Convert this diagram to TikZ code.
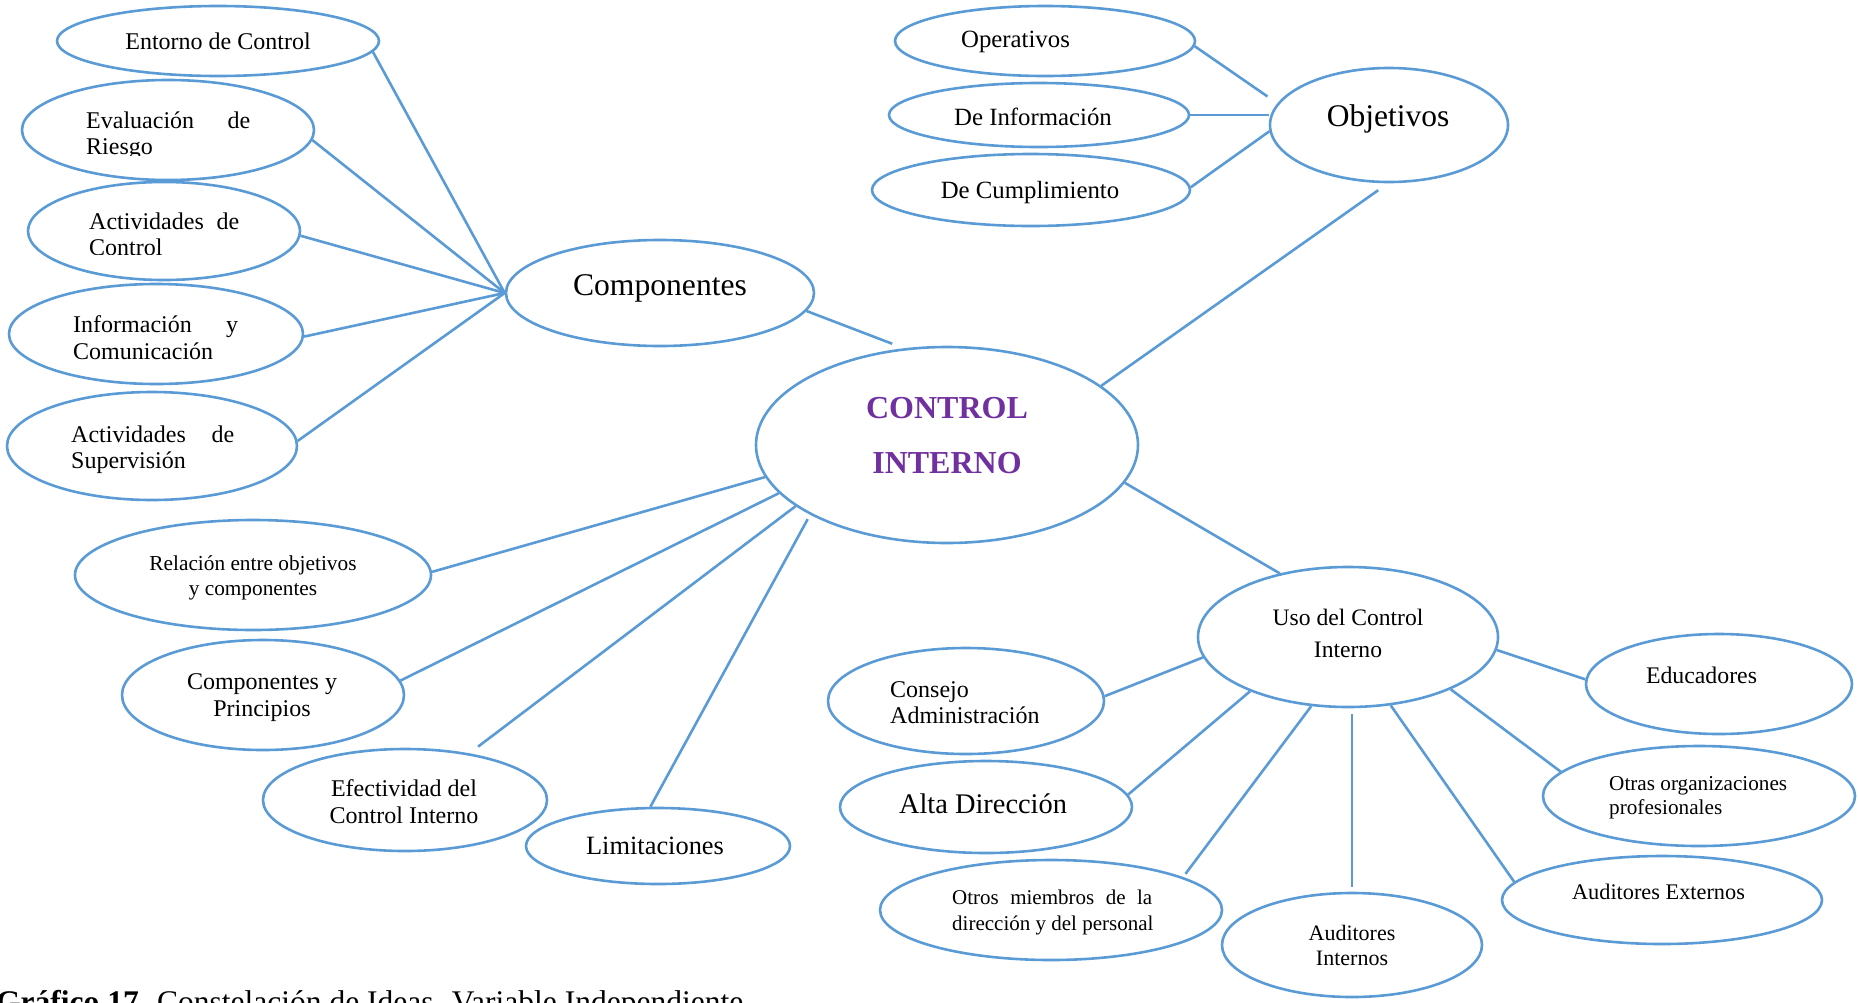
\documentclass[tikz,border=0pt]{standalone}
\usepackage{fontspec}
\setmainfont{Liberation Serif}
\usetikzlibrary{shapes.geometric}
\definecolor{lineblue}{RGB}{91,155,213}
\definecolor{cipurple}{RGB}{112,48,160}

% font size / line spacing in one go
\newcommand\fs[2]{\fontsize{#1}{#2}\selectfont}
% stacked lines, baseline on the first row
\newcommand\rows[2]{\begin{tabular}[t]{@{}#1@{}}#2\end{tabular}}

\begin{document}
\begin{tikzpicture}[x=1pt,y=-1pt,
  bubble/.style={ellipse, draw=lineblue, line width=2.6pt, inner sep=0pt},
  conn/.style={draw=lineblue, line width=2.6pt},
  lbl/.style={anchor=base, inner sep=0pt},
  lbll/.style={anchor=base west, inner sep=0pt},
]
\useasboundingbox (0,0) rectangle (1858,1002);

% ---------- ellipses ----------
% componentes branch
\node[bubble, minimum width=322pt, minimum height=70pt]  (ent)  at (218,41)  {};
\node[bubble, minimum width=292pt, minimum height=100pt] (eva)  at (168,130) {};
\node[bubble, minimum width=272pt, minimum height=98pt]  (act)  at (164,231) {};
\node[bubble, minimum width=294pt, minimum height=100pt] (inf)  at (156,334) {};
\node[bubble, minimum width=290pt, minimum height=108pt] (sup)  at (152,446) {};
\node[bubble, minimum width=308pt, minimum height=106pt] (comp) at (660,293) {};
% centre
\node[bubble, minimum width=382pt, minimum height=196pt] (ci)   at (947,445) {};
% objetivos branch
\node[bubble, minimum width=300pt, minimum height=70pt]  (ope)  at (1045,41)  {};
\node[bubble, minimum width=300pt, minimum height=64pt]  (dinf) at (1039,115) {};
\node[bubble, minimum width=318pt, minimum height=72pt]  (dcum) at (1031,190) {};
\node[bubble, minimum width=238pt, minimum height=114pt] (obj)  at (1389,125) {};
% lower left
\node[bubble, minimum width=356pt, minimum height=110pt] (rel)  at (253,575) {};
\node[bubble, minimum width=282pt, minimum height=110pt] (cyp)  at (263,695) {};
\node[bubble, minimum width=284pt, minimum height=102pt] (efe)  at (405,800) {};
\node[bubble, minimum width=264pt, minimum height=76pt]  (lim)  at (658,846) {};
% uso del control interno branch
\node[bubble, minimum width=300pt, minimum height=140pt] (uso)  at (1348,637) {};
\node[bubble, minimum width=276pt, minimum height=106pt] (cons) at (966,701)  {};
\node[bubble, minimum width=292pt, minimum height=92pt]  (alta) at (986,807)  {};
\node[bubble, minimum width=342pt, minimum height=100pt] (otros) at (1051,910) {};
\node[bubble, minimum width=260pt, minimum height=104pt] (audi) at (1352,945) {};
\node[bubble, minimum width=320pt, minimum height=88pt]  (aude) at (1662,900) {};
\node[bubble, minimum width=312pt, minimum height=100pt] (otras) at (1699,796) {};
\node[bubble, minimum width=266pt, minimum height=100pt] (edu)  at (1719,684) {};

% ---------- connectors ----------
\draw[conn] (ent.-4)    -- (comp.180);
\draw[conn] (eva.-4)    -- (comp.180);
\draw[conn] (act.-2.5)  -- (comp.180);
\draw[conn] (inf.-1.2)  -- (comp.180);
\draw[conn] (sup.2.4)   -- (comp.180);
\draw[conn, shorten >=12.5pt] (comp.-7.1) -- (ci.114.5);

\draw[conn, shorten >=12pt] (ci.21.9) -- (obj.269);
\draw[conn, shorten >=12pt] (ope.-2.3) -- (obj.169.6);
\draw[conn] (dinf.east) -- (dinf.east -| obj.west);
\draw[conn] (dcum.1.8)  -- (obj.183.4);

\draw[conn] (rel.1.6)   -- (ci.190.2);
\draw[conn] (cyp.6.4)   -- (ci.196.4);
\draw[conn, shorten <=11pt] (efe.36.4) -- (ci.202.9);
\draw[conn, shorten >=5pt] (lim.101) -- (ci.207);

\draw[conn] (ci.-12)    -- (uso.137.6);
\draw[conn] (cons.2.5)  -- (uso.188.2);
\draw[conn] (alta.5.8)  -- (uso.209.5);
\draw[conn, shorten <=4pt] (otros.14.7) -- (uso.242.5);
\draw[conn, shorten <=5pt, shorten >=6pt] (audi.north) -- (audi.north |- uso.south);
\draw[conn] (aude.173.7) -- (uso.302.4);
\draw[conn] (otras.170.7) -- (uso.333.2);
\draw[conn] (edu.178.7) -- (uso.355);

% ---------- texts ----------
\node[lbl] (t-ent) at (218,49) {\fs{24}{27}Entorno de Control};
\begin{scope}
  \clip (0,0) rectangle (1858,155);
  \node[lbll] (t-eva) at (86,128) {\fs{24}{26.5}\rows{l}{\makebox[164pt][s]{Evaluación de}\\Riesgo}};
\end{scope}
\begin{scope}
  \clip (0,180) rectangle (1858,254);
  \node[lbll] (t-act) at (89,229) {\fs{24}{26.5}\rows{l}{\makebox[150pt][s]{Actividades de}\\Control}};
\end{scope}
\node[lbll] (t-inf) at (73,332) {\fs{24}{27}\rows{l}{\makebox[165pt][s]{Información y}\\Comunicación}};
\node[lbll] (t-sup) at (71,442) {\fs{24}{26}\rows{l}{\makebox[163pt][s]{Actividades de}\\Supervisión}};
\node[lbl] (t-comp) at (660,295) {\fs{31.6}{34}Componentes};

\node[lbl, text=cipurple] (t-ci) at (947,418) {\fs{32}{55}\bfseries\rows{c}{CONTROL\\INTERNO}};

\node[lbl] (t-ope)  at (1015.5,47) {\fs{24.8}{27}Operativos};
\node[lbl] (t-dinf) at (1033,125)  {\fs{24.8}{27}De Información};
\node[lbl] (t-dcum) at (1030,198)  {\fs{24.8}{27}De Cumplimiento};
\node[lbl] (t-obj)  at (1388,126)  {\fs{31.5}{34}Objetivos};

\node[lbl] (t-rel) at (253,570) {\fs{21.3}{25}\rows{c}{Relación entre objetivos\\y componentes}};
\node[lbl] (t-cyp) at (262,689) {\fs{24}{27.5}\rows{c}{Componentes y\\Principios}};
\node[lbl] (t-efe) at (404,796) {\fs{24}{27}\rows{c}{Efectividad del\\Control Interno}};
\node[lbl] (t-lim) at (655,854) {\fs{26.4}{29}Limitaciones};

\node[lbl]  (t-uso)   at (1348,625) {\fs{23.6}{32}\rows{c}{Uso del Control\\Interno}};
\node[lbll] (t-cons)  at (890,697)  {\fs{24}{26}\rows{l}{Consejo\\Administración}};
\node[lbl]  (t-alta)  at (983,813)  {\fs{28.4}{31}Alta Dirección};
\node[lbll] (t-otros) at (952,904)  {\fs{21}{26}\rows{l}{\makebox[200pt][s]{Otros miembros de la}\\dirección y del personal}};
\node[lbl]  (t-audi)  at (1352,940) {\fs{22}{25}\rows{c}{Auditores\\Internos}};
\node[lbl]  (t-aude)  at (1658.5,899) {\fs{22.3}{25}Auditores Externos};
\node[lbll] (t-otras) at (1609,790) {\fs{21.2}{24}\rows{l}{Otras organizaciones\\profesionales}};
\node[lbl]  (t-edu)   at (1701.5,683) {\fs{23.8}{26}Educadores};

% caption, cut by the lower page edge
\node[lbll] (cap) at (-4,1012.6) {\fs{31.5}{34}\textbf{Gráfico 17.} Constelación de Ideas. Variable Independiente};
\end{tikzpicture}
\end{document}
